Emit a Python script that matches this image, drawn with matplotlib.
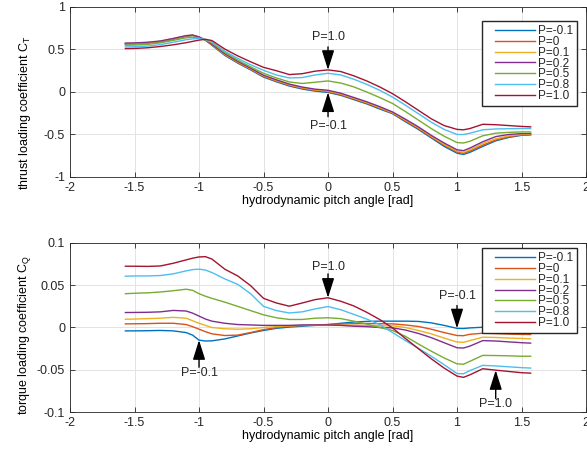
import matplotlib

matplotlib.use("Agg")
import matplotlib.pyplot as plt  # noqa: E402
import numpy as np  # noqa: E402
from matplotlib.legend_handler import HandlerLine2D  # noqa: E402
from matplotlib.lines import Line2D  # noqa: E402

# MATLAB-like default line colours
COLORS = ["#0072BD", "#D95319", "#EDB120", "#7E2F8E", "#77AC30", "#4DBEEE", "#A2142F"]
TEXT = "#262626"
GRID = "#e3e3e3"

labels = ["P=-0.1", "P=0", "P=0.1", "P=0.2", "P=0.5", "P=0.8", "P=1.0"]

# hydrodynamic pitch angle [rad]
beta = [-1.5708, -1.5, -1.4, -1.3, -1.2, -1.1, -1.05, -1.0, -0.95, -0.9, -0.8, -0.7,
        -0.6, -0.5, -0.4, -0.3, -0.2, -0.1, 0.0, 0.1, 0.2, 0.3, 0.4, 0.5,
        0.6, 0.7, 0.8, 0.9, 1.0, 1.05, 1.1, 1.2, 1.3, 1.4, 1.5, 1.5708]

# thrust loading coefficient C_T
ct_m01 = [0.565, 0.567, 0.575, 0.59, 0.62, 0.655, 0.665, 0.645, 0.61, 0.55, 0.43, 0.34,
          0.26, 0.175, 0.12, 0.07, 0.035, 0.01, -0.005, -0.04, -0.09, -0.14, -0.20, -0.255,
          -0.35, -0.44, -0.54, -0.64, -0.72, -0.735, -0.71, -0.64, -0.575, -0.535, -0.51, -0.505]
ct_00 = [0.568, 0.57, 0.578, 0.594, 0.624, 0.658, 0.667, 0.645, 0.61, 0.553, 0.437, 0.347,
         0.267, 0.183, 0.128, 0.078, 0.043, 0.018, 0.003, -0.032, -0.082, -0.132, -0.19, -0.25,
         -0.34, -0.43, -0.53, -0.625, -0.705, -0.72, -0.695, -0.625, -0.565, -0.527, -0.505, -0.50]
ct_01 = [0.571, 0.573, 0.58, 0.597, 0.627, 0.66, 0.668, 0.645, 0.61, 0.556, 0.443, 0.354,
         0.274, 0.19, 0.135, 0.085, 0.05, 0.025, 0.011, -0.024, -0.074, -0.124, -0.182, -0.243,
         -0.33, -0.42, -0.52, -0.615, -0.695, -0.71, -0.68, -0.605, -0.55, -0.517, -0.50, -0.497]
ct_02 = [0.575, 0.577, 0.585, 0.60, 0.63, 0.663, 0.67, 0.648, 0.61, 0.56, 0.45, 0.36,
         0.28, 0.197, 0.143, 0.093, 0.058, 0.033, 0.02, -0.015, -0.065, -0.115, -0.172, -0.235,
         -0.32, -0.41, -0.51, -0.60, -0.68, -0.69, -0.66, -0.585, -0.525, -0.50, -0.49, -0.49]
ct_05 = [0.55, 0.552, 0.56, 0.578, 0.607, 0.638, 0.645, 0.635, 0.612, 0.575, 0.465, 0.375,
         0.295, 0.22, 0.165, 0.118, 0.10, 0.115, 0.13, 0.105, 0.06, 0.00, -0.065, -0.135,
         -0.23, -0.33, -0.43, -0.52, -0.595, -0.60, -0.58, -0.515, -0.485, -0.475, -0.47, -0.47]
ct_08 = [0.53, 0.532, 0.54, 0.557, 0.585, 0.615, 0.625, 0.628, 0.617, 0.59, 0.48, 0.395,
         0.32, 0.255, 0.20, 0.165, 0.17, 0.20, 0.22, 0.20, 0.15, 0.09, 0.02, -0.06,
         -0.155, -0.255, -0.355, -0.44, -0.50, -0.50, -0.485, -0.445, -0.435, -0.432, -0.43, -0.43]
ct_10 = [0.51, 0.512, 0.52, 0.535, 0.555, 0.58, 0.595, 0.61, 0.62, 0.605, 0.505, 0.425,
         0.355, 0.29, 0.25, 0.205, 0.215, 0.245, 0.26, 0.24, 0.19, 0.13, 0.06, -0.02,
         -0.115, -0.215, -0.315, -0.395, -0.44, -0.445, -0.43, -0.38, -0.385, -0.395, -0.405, -0.41]

# torque loading coefficient C_Q
cq_m01 = [-0.004, -0.004, -0.0038, -0.0035, -0.004, -0.006, -0.009, -0.015, -0.016, -0.0158, -0.0135, -0.010,
          -0.0065, -0.0035, -0.001, 0.0005, 0.0015, 0.0025, 0.0035, 0.005, 0.0065, 0.0072, 0.0075, 0.0075,
          0.0075, 0.0072, 0.0055, 0.0025, -0.001, -0.0012, -0.0005, 0.0003, 0.0003, 0.0, -0.0003, -0.0004]
cq_00 = [0.0043, 0.0044, 0.0046, 0.005, 0.005, 0.0035, 0.001, -0.002, -0.005, -0.0075, -0.0095, -0.009,
         -0.006, -0.0025, 0.0, 0.0015, 0.0025, 0.003, 0.0035, 0.004, 0.0045, 0.0047, 0.0045, 0.0043,
         0.003, 0.0012, -0.002, -0.006, -0.0095, -0.0097, -0.008, -0.0068, -0.0072, -0.0078, -0.0082, -0.0083]
cq_01 = [0.0098, 0.010, 0.0105, 0.011, 0.012, 0.011, 0.008, 0.005, 0.0025, 0.0, -0.0015, -0.002,
         -0.0015, 0.0, 0.001, 0.002, 0.0025, 0.0025, 0.0025, 0.0025, 0.0025, 0.0023, 0.002, 0.002,
         0.0, -0.0035, -0.0075, -0.0125, -0.0172, -0.0175, -0.0155, -0.0115, -0.0118, -0.0125, -0.013, -0.0134]
cq_02 = [0.0177, 0.0178, 0.018, 0.0185, 0.0202, 0.0195, 0.017, 0.0135, 0.010, 0.0075, 0.005, 0.0035,
         0.003, 0.0025, 0.0025, 0.0025, 0.003, 0.003, 0.003, 0.0025, 0.0015, 0.001, 0.0, -0.0004,
         -0.003, -0.007, -0.012, -0.018, -0.024, -0.0243, -0.022, -0.0155, -0.016, -0.017, -0.018, -0.0185]
cq_05 = [0.040, 0.0405, 0.041, 0.042, 0.0435, 0.0453, 0.044, 0.040, 0.037, 0.0345, 0.030, 0.025,
         0.020, 0.015, 0.0115, 0.0095, 0.0095, 0.011, 0.0115, 0.0105, 0.0075, 0.004, 0.0, -0.0035,
         -0.0105, -0.0195, -0.028, -0.036, -0.043, -0.0435, -0.040, -0.033, -0.0332, -0.0335, -0.034, -0.034]
cq_08 = [0.0607, 0.061, 0.061, 0.0615, 0.0635, 0.067, 0.0685, 0.069, 0.068, 0.065, 0.0575, 0.051,
         0.040, 0.025, 0.020, 0.0172, 0.0185, 0.022, 0.0248, 0.021, 0.0155, 0.010, 0.0035, -0.006,
         -0.0155, -0.0245, -0.034, -0.044, -0.0545, -0.0548, -0.051, -0.0448, -0.0455, -0.0465, -0.0475, -0.048]
cq_10 = [0.0725, 0.0725, 0.0723, 0.0728, 0.076, 0.080, 0.082, 0.0835, 0.0838, 0.081, 0.069, 0.061,
         0.0495, 0.0345, 0.029, 0.0252, 0.029, 0.033, 0.0352, 0.031, 0.0255, 0.018, 0.0095, -0.0005,
         -0.013, -0.025, -0.037, -0.048, -0.0575, -0.059, -0.056, -0.0488, -0.0505, -0.052, -0.0535, -0.054]

ct_series = [ct_m01, ct_00, ct_01, ct_02, ct_05, ct_08, ct_10]
cq_series = [cq_m01, cq_00, cq_01, cq_02, cq_05, cq_08, cq_10]

plt.rcParams.update({
    "font.family": ["Liberation Sans", "DejaVu Sans"],
    "font.size": 9,
    "text.color": TEXT,
    "axes.edgecolor": TEXT,
    "axes.linewidth": 0.6,
    "xtick.color": TEXT,
    "ytick.color": TEXT,
    "xtick.direction": "in",
    "ytick.direction": "in",
    "xtick.top": True,
    "ytick.right": True,
    "xtick.major.size": 3.5,
    "ytick.major.size": 3.5,
    "xtick.major.width": 0.6,
    "ytick.major.width": 0.6,
})

x = np.array(beta)


def value_at(series, xv):
    return series[beta.index(xv)]


def arrow(ax, label, xv, tip, tail, text_y):
    ax.annotate("", xy=(xv, tip), xytext=(xv, tail),
                arrowprops=dict(arrowstyle="-|>,head_length=1.2,head_width=0.38",
                                color="black", lw=1.0, shrinkA=0, shrinkB=0,
                                mutation_scale=10))
    ax.text(xv, text_y, label, ha="center", va="center", fontsize=9, color=TEXT)


def style_axes(ax, ylim, yticks, yticklabels):
    ax.set_xlim(-2, 2)
    ax.set_ylim(*ylim)
    ax.set_xticks(np.arange(-2, 2.01, 0.5))
    ax.set_xticklabels(["-2", "-1.5", "-1", "-0.5", "0", "0.5", "1", "1.5", "2"])
    ax.set_yticks(yticks)
    ax.set_yticklabels(yticklabels)
    ax.grid(True, color=GRID, linewidth=0.7)
    ax.set_axisbelow(True)
    ax.set_xlabel("hydrodynamic pitch angle [rad]", labelpad=1)


fig = plt.figure(figsize=(5.87, 4.53), dpi=100)
ax1 = fig.add_axes([0.1193, 0.6093, 0.8790, 0.3753])
ax2 = fig.add_axes([0.1193, 0.0905, 0.8790, 0.3731])

for ys, c, lab in zip(ct_series, COLORS, labels):
    ax1.plot(x, ys, color=c, lw=1.0, label=lab)
for ys, c, lab in zip(cq_series, COLORS, labels):
    ax2.plot(x, ys, color=c, lw=1.0, label=lab)

style_axes(ax1, (-1, 1), [-1, -0.5, 0, 0.5, 1], ["-1", "-0.5", "0", "0.5", "1"])
style_axes(ax2, (-0.1, 0.1), [-0.1, -0.05, 0, 0.05, 0.1], ["-0.1", "-0.05", "0", "0.05", "0.1"])

ax1.set_ylabel(r"thrust loading coefficient C$_{\mathregular{T}}$")
ax2.set_ylabel(r"torque loading coefficient C$_{\mathregular{Q}}$")
ax1.yaxis.set_label_coords(-0.072, 0.376)
ax2.yaxis.set_label_coords(-0.072, 0.456)

# annotations on the thrust curves
arrow(ax1, "P=1.0", 0.0, value_at(ct_10, 0.0), 0.53, 0.65)
arrow(ax1, "P=-0.1", 0.0, value_at(ct_m01, 0.0), -0.29, -0.40)

# annotations on the torque curves
arrow(ax2, "P=1.0", 0.0, value_at(cq_10, 0.0), 0.0634, 0.0713)
arrow(ax2, "P=-0.1", -1.0, value_at(cq_m01, -1.0), -0.047, -0.0544)
arrow(ax2, "P=-0.1", 1.0, value_at(cq_m01, 1.0), 0.026, 0.0378)
arrow(ax2, "P=1.0", 1.3, value_at(cq_10, 1.3), -0.084, -0.091)

for ax, top in ((ax1, 0.9176), (ax2, 0.970)):
    leg = ax.legend(loc="upper right", bbox_to_anchor=(0.9826, top), borderaxespad=0,
                    fontsize=8.5, handlelength=4.1, handletextpad=0.25,
                    labelspacing=-0.1, borderpad=0.35, fancybox=False, framealpha=1,
                    handler_map={Line2D: HandlerLine2D(xpad=0.7)})
    leg.get_frame().set_edgecolor(TEXT)
    leg.get_frame().set_linewidth(1.0)

fig.savefig("out.png", dpi=100, facecolor="white")
